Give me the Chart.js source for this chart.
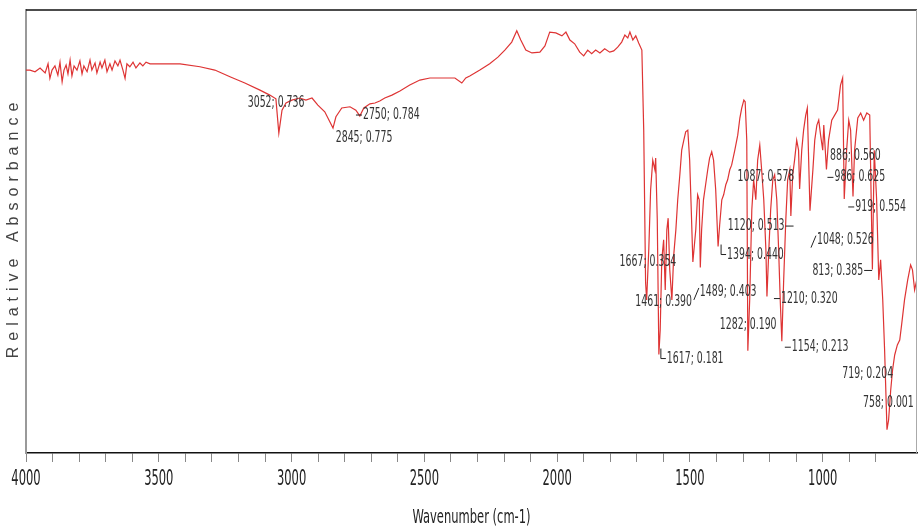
<!DOCTYPE html>
<html>
<head>
<meta charset="utf-8">
<script src="https://cdn.jsdelivr.net/npm/chart.js@4"></script>
<style>
  html, body { margin: 0; padding: 0; background: #fff; }
  canvas { display: block; }
</style>
</head>
<body>
<canvas id="irChart" width="921" height="528"></canvas>
<script>
// wavenumber (cm-1) and relative absorbance
const wavenumbers = [
  4000, 3985, 3966, 3947, 3928, 3917, 3910, 3902, 3891, 3880, 3872, 3864, 3857, 3849, 3842, 3834,
  3827, 3819, 3808, 3797, 3789, 3782, 3770, 3759, 3752, 3740, 3733, 3721, 3714, 3703, 3695, 3684,
  3676, 3665, 3654, 3646, 3635, 3627, 3620, 3609, 3597, 3586, 3571, 3560, 3548, 3533, 3496, 3420,
  3345, 3289, 3232, 3176, 3119, 3082, 3059, 3048, 3036, 3021, 2999, 2969, 2946, 2923, 2901, 2875,
  2856, 2844, 2833, 2811, 2780, 2758, 2743, 2728, 2705, 2686, 2668, 2649, 2622, 2592, 2555, 2517,
  2479, 2442, 2385, 2359, 2344, 2329, 2291, 2254, 2223, 2197, 2171, 2152, 2137, 2118, 2095, 2065,
  2046, 2028, 2005, 1982, 1967, 1952, 1934, 1915, 1900, 1885, 1870, 1855, 1839, 1821, 1802, 1787,
  1772, 1757, 1745, 1734, 1726, 1715, 1704, 1693, 1681, 1674, 1667, 1663, 1655, 1648, 1640, 1632,
  1629, 1623, 1617, 1612, 1606, 1599, 1593, 1587, 1582, 1576, 1568, 1561, 1553, 1546, 1538, 1531,
  1523, 1516, 1508, 1501, 1495, 1489, 1478, 1471, 1465, 1461, 1456, 1449, 1441, 1433, 1426, 1418,
  1411, 1403, 1394, 1388, 1380, 1373, 1365, 1358, 1350, 1343, 1331, 1320, 1312, 1305, 1297, 1292,
  1286, 1282, 1275, 1267, 1260, 1252, 1245, 1237, 1230, 1222, 1214, 1210, 1203, 1196, 1188, 1181,
  1173, 1166, 1160, 1154, 1147, 1139, 1132, 1124, 1120, 1113, 1106, 1098, 1091, 1087, 1079, 1072,
  1064, 1058, 1048, 1037, 1030, 1022, 1015, 1008, 1000, 996, 986, 978, 966, 955, 944, 933,
  925, 919, 910, 902, 895, 886, 880, 868, 857, 846, 834, 823, 813, 806, 797, 789,
  782, 774, 767, 758, 752, 744, 737, 729, 719, 710, 703, 692, 680, 669, 662, 654,
  646
];
const absorbance = [
  0.863, 0.863, 0.859, 0.868, 0.856, 0.878, 0.843, 0.863, 0.873, 0.851, 0.882, 0.835, 0.863, 0.875, 0.854, 0.887,
  0.849, 0.873, 0.863, 0.885, 0.854, 0.873, 0.859, 0.887, 0.863, 0.880, 0.856, 0.882, 0.868, 0.887, 0.859, 0.878,
  0.863, 0.885, 0.873, 0.887, 0.863, 0.843, 0.878, 0.871, 0.882, 0.868, 0.880, 0.873, 0.882, 0.878, 0.878, 0.878,
  0.871, 0.863, 0.847, 0.832, 0.815, 0.803, 0.794, 0.712, 0.767, 0.784, 0.791, 0.796, 0.791, 0.796, 0.779, 0.763,
  0.739, 0.724, 0.751, 0.772, 0.775, 0.767, 0.753, 0.772, 0.782, 0.784, 0.789, 0.796, 0.803, 0.813, 0.827, 0.839,
  0.844, 0.844, 0.844, 0.832, 0.844, 0.849, 0.863, 0.878, 0.894, 0.911, 0.930, 0.957, 0.935, 0.911, 0.904, 0.906,
  0.921, 0.954, 0.952, 0.945, 0.954, 0.935, 0.926, 0.906, 0.897, 0.911, 0.902, 0.911, 0.904, 0.914, 0.906, 0.909,
  0.918, 0.930, 0.947, 0.940, 0.954, 0.935, 0.945, 0.928, 0.911, 0.719, 0.354, 0.312, 0.432, 0.576, 0.647, 0.624,
  0.652, 0.504, 0.181, 0.240, 0.408, 0.456, 0.336, 0.480, 0.508, 0.384, 0.312, 0.420, 0.480, 0.552, 0.612, 0.671,
  0.695, 0.715, 0.719, 0.647, 0.528, 0.403, 0.480, 0.564, 0.552, 0.390, 0.480, 0.552, 0.588, 0.624, 0.652, 0.667,
  0.647, 0.576, 0.440, 0.492, 0.552, 0.564, 0.588, 0.600, 0.624, 0.635, 0.671, 0.707, 0.748, 0.772, 0.791, 0.787,
  0.695, 0.190, 0.312, 0.528, 0.600, 0.552, 0.647, 0.683, 0.624, 0.552, 0.432, 0.320, 0.432, 0.528, 0.600, 0.612,
  0.552, 0.432, 0.312, 0.213, 0.360, 0.504, 0.600, 0.624, 0.513, 0.612, 0.647, 0.695, 0.671, 0.578, 0.671, 0.719,
  0.755, 0.772, 0.526, 0.624, 0.695, 0.731, 0.743, 0.707, 0.671, 0.731, 0.625, 0.695, 0.743, 0.755, 0.767, 0.827,
  0.844, 0.554, 0.671, 0.743, 0.719, 0.560, 0.671, 0.748, 0.760, 0.743, 0.760, 0.755, 0.385, 0.671, 0.552, 0.360,
  0.408, 0.312, 0.192, 0.001, 0.024, 0.096, 0.144, 0.180, 0.204, 0.216, 0.252, 0.312, 0.360, 0.396, 0.384, 0.336,
  0.360
];

// labelled peaks
const peakWavenumbers = [3052, 2750, 2845, 1667, 1461, 1617, 1489, 1394, 1120, 1087, 886, 986, 919, 1048, 1210, 1282, 1154, 813, 719, 758];
const peakValues = [0.736, 0.784, 0.775, 0.354, 0.390, 0.181, 0.403, 0.440, 0.513, 0.578, 0.560, 0.625, 0.554, 0.526, 0.320, 0.190, 0.213, 0.385, 0.204, 0.001];

const majorTicks = [4000, 3500, 3000, 2500, 2000, 1500, 1000];

// where each label sits relative to its peak: [dx, dy, leader]
const labelOffsets = [
  [-30, -20, ''], [5, 12, 'l'], [3, 31, ''], [-26, -20, ''], [-65, 35, ''],
  [8, 4, 'L'], [7, 30, 's'], [9, 8, 'L'], [-63, 10, 'r'], [-62, -12, ''],
  [-23, -41, ''], [8, 8, 'l'], [11, 8, 'l'], [7, 29, 's'], [14, 2, 'l'],
  [-28, -26, ''], [10, 6, 'l'], [-60, 1, 'r'], [-55, 29, ''], [-24, -27, '']
];

const narrow = "'DejaVu Sans Condensed', 'Liberation Sans', sans-serif";

const spectrum = wavenumbers.map((w, i) => ({ x: w, y: absorbance[i] }));

// text squeezed sideways and stretched up, like the condensed font of the original
function squeezed(ctx, text, x, y, sx, sy, align) {
  ctx.save();
  ctx.translate(x, y);
  ctx.scale(sx, sy);
  ctx.textAlign = align;
  ctx.textBaseline = 'middle';
  ctx.fillText(text, 0, 0);
  ctx.restore();
}

const decorations = {
  id: 'decorations',
  afterDraw(chart) {
    const ctx = chart.ctx;
    const a = chart.chartArea;
    const xs = chart.scales.x, ys = chart.scales.y;
    ctx.save();
    // frame: top black, right grey
    ctx.strokeStyle = '#111';
    ctx.lineWidth = 1.5;
    ctx.beginPath();
    ctx.moveTo(a.left, a.top);
    ctx.lineTo(a.right, a.top);
    ctx.stroke();
    ctx.strokeStyle = '#aaa';
    ctx.lineWidth = 1;
    ctx.beginPath();
    ctx.moveTo(a.right - 0.5, a.top);
    ctx.lineTo(a.right - 0.5, a.bottom);
    ctx.stroke();

    // tick labels and axis title
    ctx.fillStyle = '#222';
    ctx.font = '16px ' + narrow;
    majorTicks.forEach(t => {
      squeezed(ctx, String(t), xs.getPixelForValue(t), 480, 0.8, 1.3, 'center');
    });
    squeezed(ctx, 'Wavenumber (cm-1)', (a.left + a.right) / 2, 518, 0.8, 1.2, 'center');

    // peak labels
    ctx.font = '13px ' + narrow;
    ctx.lineWidth = 1;
    const sx = 0.8;
    peakWavenumbers.forEach((w, i) => {
      const text = w + '; ' + peakValues[i].toFixed(3);
      const px = xs.getPixelForValue(w);
      const py = ys.getPixelForValue(peakValues[i]);
      const [dx, dy, leader] = labelOffsets[i];
      const tx = px + dx, ty = py + dy;
      const tw = ctx.measureText(text).width * sx;
      ctx.fillStyle = '#333';
      squeezed(ctx, text, tx, ty, sx, 1.2, 'left');
      ctx.strokeStyle = '#222';
      ctx.beginPath();
      if (leader === 'l') {
        ctx.moveTo(tx - 7, ty); ctx.lineTo(tx - 1, ty);
      } else if (leader === 'r') {
        ctx.moveTo(tx + tw + 1, ty); ctx.lineTo(tx + tw + 9, ty);
      } else if (leader === 's') {
        ctx.moveTo(tx - 6, ty + 8); ctx.lineTo(tx - 1, ty - 4);
      } else if (leader === 'L') {
        ctx.moveTo(tx - 6, ty - 10); ctx.lineTo(tx - 6, ty); ctx.lineTo(tx - 1, ty);
      }
      ctx.stroke();
    });

    // y title with wide letter spacing
    ctx.translate(14, (a.top + a.bottom) / 2 - 4);
    ctx.rotate(-Math.PI / 2);
    ctx.font = "16px 'Liberation Sans', Arial, sans-serif";
    ctx.letterSpacing = '6px';
    ctx.textAlign = 'center';
    ctx.textBaseline = 'middle';
    ctx.fillStyle = '#444';
    ctx.fillText('Relative Absorbance', 0, 0);
    ctx.restore();
  }
};

new Chart(document.getElementById('irChart'), {
  type: 'line',
  data: {
    datasets: [{
      data: spectrum,
      borderColor: 'rgb(222, 52, 52)',
      borderWidth: 1.2,
      pointRadius: 0,
      tension: 0,
      fill: false
    }]
  },
  options: {
    responsive: false,
    animation: false,
    layout: { padding: { top: 10, right: 4, left: 0, bottom: 0 } },
    plugins: {
      legend: { display: false },
      tooltip: { enabled: false }
    },
    scales: {
      x: {
        type: 'linear',
        reverse: true,
        min: 645,
        max: 4000,
        afterFit: s => { s.height = 75; },
        afterBuildTicks: s => { s.ticks = s.ticks.filter(t => Math.round(t.value) % 100 === 0); },
        ticks: {
          stepSize: 100,
          autoSkip: false,
          maxRotation: 0,
          callback: () => ''
        },
        grid: { drawOnChartArea: false, drawTicks: true, tickLength: 9, color: '#888' },
        border: { display: true, color: '#111', width: 1.5 },
        title: { display: false }
      },
      y: {
        min: -0.055,
        max: 1.007,
        afterFit: s => { s.width = 26; },
        ticks: { display: false },
        grid: { display: false },
        border: { display: true, color: '#999', width: 2 }
      }
    }
  },
  plugins: [decorations]
});
</script>
</body>
</html>
